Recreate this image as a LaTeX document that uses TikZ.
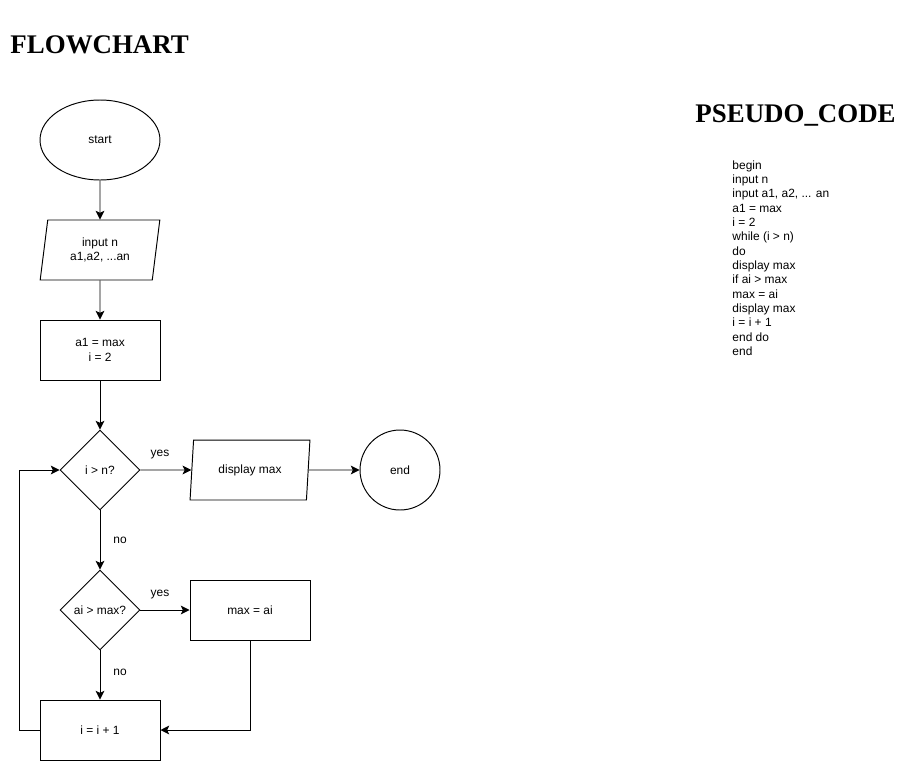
\documentclass[tikz,border=0pt]{standalone}
\usepackage{fontspec}
\setmainfont{Liberation Sans}
\newfontfamily\titlefont{Liberation Serif}
\usepackage{tikz}
\usetikzlibrary{arrows.meta,positioning,shapes.geometric}

\begin{document}
\begin{tikzpicture}[
  x=0.02cm,y=-0.02cm,line width=0.55pt,
  every node/.style={font=\fontsize{6.8}{8.16}\selectfont,align=center},
  fctitle/.style={font=\titlefont\bfseries\fontsize{15.3}{18}\selectfont,inner sep=0pt},
  fcterminal/.style={draw,ellipse,minimum width=2.4cm,minimum height=1.6cm,inner sep=0pt},
  fcend/.style={draw,circle,minimum size=1.6cm,inner sep=0pt},
  fcio/.style={draw,trapezium,trapezium left angle=80,trapezium right angle=100,
    trapezium stretches=true,minimum width=2.4cm,minimum height=1.2cm,inner sep=0pt},
  fcprocess/.style={draw,rectangle,minimum width=2.4cm,minimum height=1.2cm,inner sep=0pt},
  fcdecision/.style={draw,diamond,aspect=1,minimum size=1.6cm,inner sep=0pt},
  fclabel/.style={inner sep=1pt},
  fcarrow/.style={-{Stealth[length=5pt,width=5pt,inset=1.2pt]}}
]
  \useasboundingbox (0,0) rectangle (911,761);

  \node[fctitle,anchor=west] (flowtitle) at (10,45) {FLOWCHART};
  \node[fctitle,anchor=west] (codetitle) at (695,115) {PSEUDO\_CODE};
  \node[anchor=north west,align=left,inner sep=0pt] (pseudocode) at (732,160) {
    begin\\
    input n\\
    input a1, a2, ... an\\
    a1 = max\\
    i = 2\\
    while (i > n)\\
    do\\
    display max\\
    if ai > max\\
    max = ai\\
    display max\\
    i = i + 1\\
    end do\\
    end};

  \node[fcterminal] (start) at (100,140) {start};
  \node[fcio] (input) at (100,250) {input n\\a1,a2, ...an};
  \node[fcprocess] (init) at (100,350) {a1 = max\\i = 2};
  \node[fcdecision] (checkn) at (100,470) {i > n?};
  \node[fcio] (display) at (250,470) {display max};
  \node[fcend] (stop) at (400,470) {end};
  \node[fcdecision] (checkmax) at (100,610) {ai > max?};
  \node[fcprocess] (setmax) at (250,610) {max = ai};
  \node[fcprocess] (incr) at (100,730) {i = i + 1};

  \node[fclabel] (yesn) at (160,455) {yes};
  \node[fclabel] (non) at (120,540) {no};
  \node[fclabel] (yesmax) at (160,595) {yes};
  \node[fclabel] (nomax) at (120,672) {no};

  \draw[fcarrow] (start) -- (input);
  \draw[fcarrow] (input) -- (init);
  \draw[fcarrow] (init) -- (checkn);
  \draw[fcarrow] (checkn) -- (display);
  \draw[fcarrow] (display) -- (stop);
  \draw[fcarrow] (checkn) -- (checkmax);
  \draw[fcarrow] (checkmax) -- (setmax);
  \draw[fcarrow] (checkmax) -- (incr);
  \draw[fcarrow] (setmax.south) |- (incr.east);
  \draw[fcarrow] (incr.west) -- ++(-20,0) |- (checkn.west);
\end{tikzpicture}
\end{document}
